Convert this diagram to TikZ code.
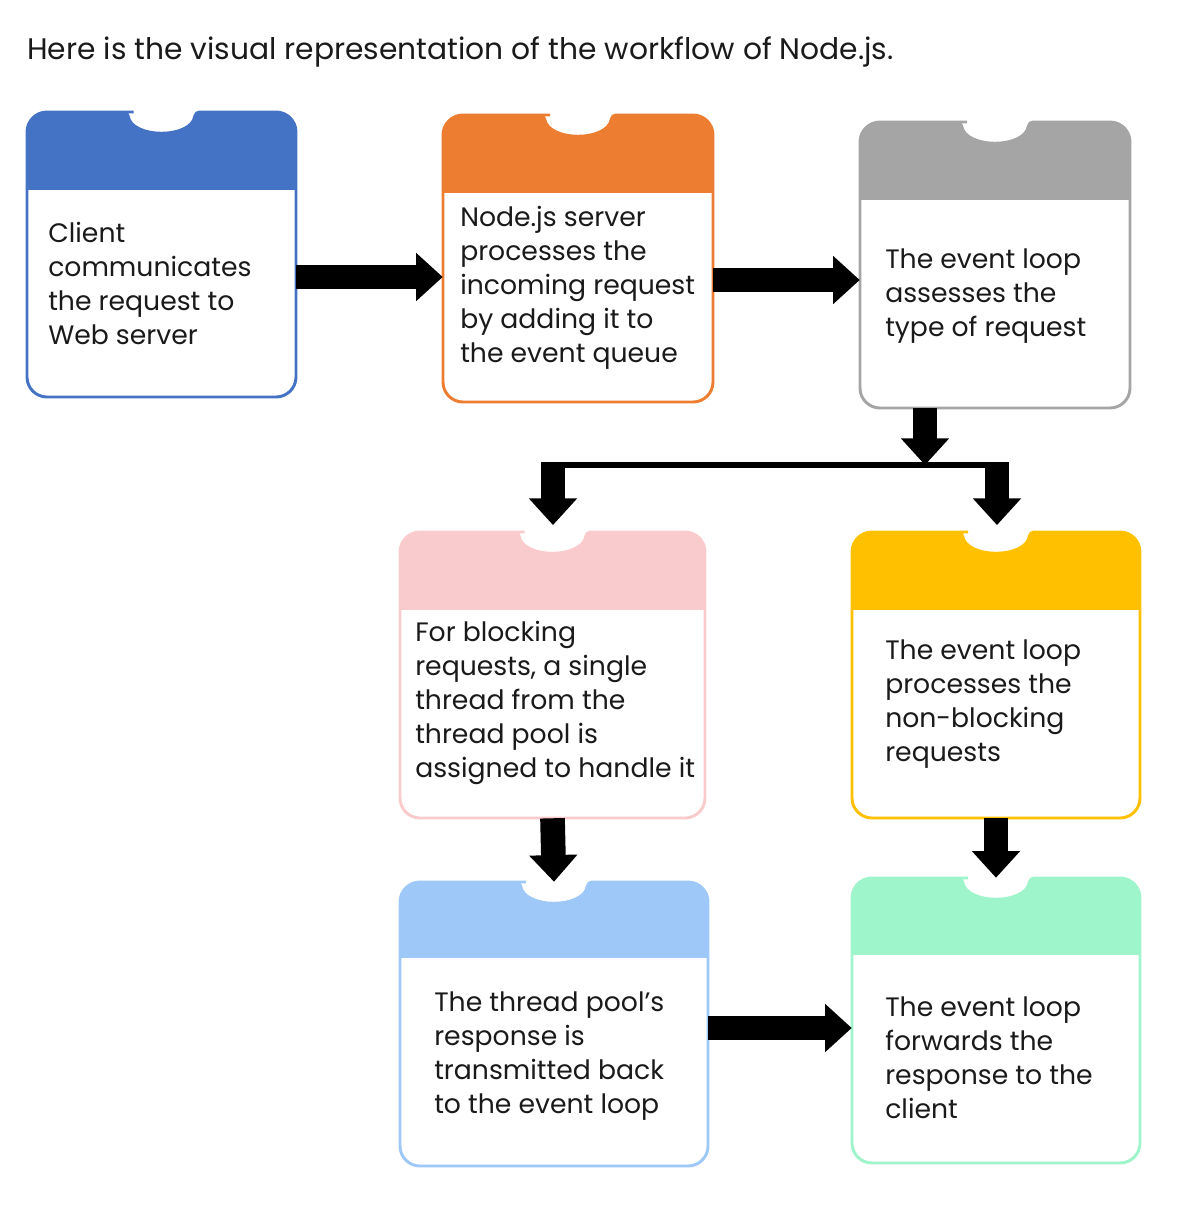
\documentclass[tikz,border=0pt]{standalone}
\usepackage{fontspec}
\setmainfont{Poppins}
\usetikzlibrary{arrows.meta,fit,calc}
\definecolor{cblue}{HTML}{4472C4}
\definecolor{corange}{HTML}{ED7D31}
\definecolor{cgray}{HTML}{A5A5A5}
\definecolor{cpink}{HTML}{FACBCD}
\definecolor{cyellow}{HTML}{FFC000}
\definecolor{clblue}{HTML}{9DC8F8}
\definecolor{cmint}{HTML}{9EF5CC}
\definecolor{txtc}{HTML}{1A1A1A}
\tikzset{
  blk/.style={line width=18.5pt, -{Triangle[length=20pt,width=35pt]}, black},
  txt/.style={anchor=west, align=left, font=\fontsize{20}{25.5}\selectfont, text=txtc, inner sep=0pt},
  ttl/.style={anchor=west, font=\fontsize{22.3}{26}\selectfont, text=txtc, inner sep=0pt},
  junc/.style={line width=4pt, black},
}
% name, x1, y1, x2, y2, header bottom, colour
\newcommand\nbox[7]{%
  \coordinate (#1nw) at (#2,#3);
  \coordinate (#1se) at (#4,#5);
  \node[fit=(#1nw)(#1se), inner sep=0pt] (#1) {};
  \def\nbshape{(#2,{(#3+#5)/2}) [rounded corners=15pt] -- (#2,#3) -- ({(#2+#4)/2-48},#3) [rounded corners=3pt] -- ({(#2+#4)/2-34},#3) .. controls ({(#2+#4)/2-30},{#3+27}) and ({(#2+#4)/2+30},{#3+27}) .. ({(#2+#4)/2+34},#3) -- ({(#2+#4)/2+48},#3) [rounded corners=15pt] -- (#4,#3) -- (#4,#5) -- (#2,#5) -- cycle}
  \fill[white] \nbshape;
  \begin{scope}\clip \nbshape; \fill[#7] (#2,{#3-5}) rectangle (#4,#6); \end{scope}
  \draw[#7, line width=2.2pt] \nbshape;
}
\begin{document}
\begin{tikzpicture}[x=0.75pt,y=-0.75pt]
\useasboundingbox (0,0) rectangle (1200,1225);
\node[ttl] (title) at (27,52) {Here is the visual representation of the workflow of Node.js.};

\nbox{b1}{27}{112}{296}{397}{190}{cblue}
\nbox{b2}{443}{115}{713}{402}{193}{corange}
\nbox{b3}{860}{122}{1130}{408}{200}{cgray}
\nbox{b4}{400}{532}{705}{818}{610}{cpink}
\nbox{b5}{852}{532}{1140}{818}{610}{cyellow}
\nbox{b6}{400}{882}{708}{1166}{958}{clblue}
\nbox{b7}{852}{878}{1140}{1163}{955}{cmint}

\node[txt] (t1) at (48,283) {Client\\communicates\\the request to\\Web server};
\node[txt] (t2) at (460,288) {Node.js server\\processes the\\incoming request\\by adding it to\\the event queue};
\node[txt] (t3) at (885,296) {The event loop\\assesses the\\type of request};
\node[txt] (t4) at (415,703) {For blocking\\requests, a single\\thread from the\\thread pool is\\assigned to handle it};
\node[txt] (t5) at (885,704) {The event loop\\processes the\\non-blocking\\requests};
\node[txt] (t6) at (434,1056) {The thread pool's\\response is\\transmitted back\\to the event loop};
\node[txt] (t7) at (885,1058) {The event loop\\forwards the\\response to the\\client};

\coordinate (jm) at (925,465);
\coordinate (jl) at (553,465);
\coordinate (jr) at (997,465);

\draw[blk] (b1.east |- 0,277) -- (b2.west |- 0,277);
\draw[blk] (b2.east |- 0,280) -- (b3.west |- 0,280);
\draw[blk] (b3.south -| jm) -- (jm);
\draw[junc] (jl) -- (jr);
\draw[blk] ([yshift=2pt]jl) -- ([yshift=5pt]b4.north -| jl);
\draw[blk] ([yshift=2pt]jr) -- ([yshift=5pt]b5.north -| jr);
\draw[blk] (b4.south) -- (b6.north);
\draw[blk] (b5.south) -- (b7.north);
\draw[blk] (b6.east |- 0,1028) -- (b7.west |- 0,1028);
\end{tikzpicture}
\end{document}
